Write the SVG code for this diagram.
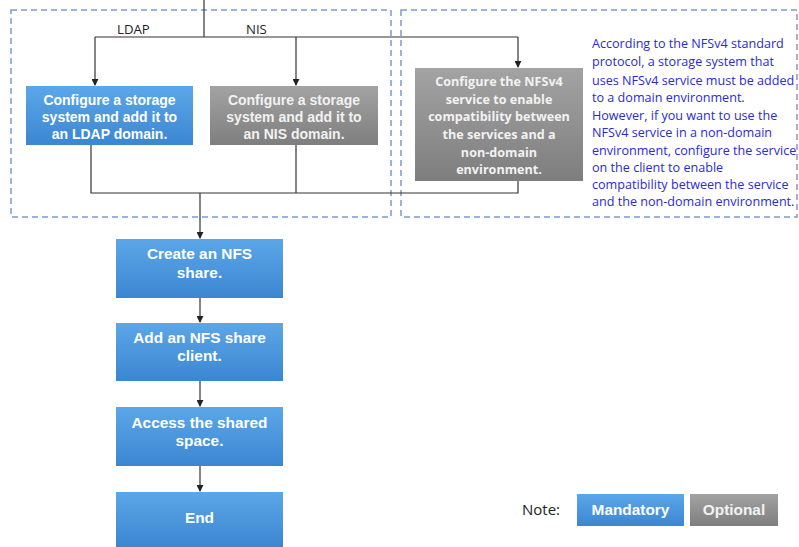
<svg xmlns="http://www.w3.org/2000/svg" width="799" height="547" viewBox="0 0 799 547">
<defs>
<linearGradient id="gb" x1="0" y1="0" x2="0" y2="1"><stop offset="0" stop-color="#5ca7e8"/><stop offset="1" stop-color="#3b86d1"/></linearGradient>
<linearGradient id="gg" x1="0" y1="0" x2="0" y2="1"><stop offset="0" stop-color="#a3a3a3"/><stop offset="1" stop-color="#7e7e7e"/></linearGradient>
<marker id="ar" viewBox="0 0 8 8" refX="7" refY="4" markerWidth="7" markerHeight="7" orient="auto" markerUnits="userSpaceOnUse"><path d="M0,0 L8,4 L0,8 z" fill="#222"/></marker>
<style>
.dash{fill:none;stroke:#7c9bd3;stroke-width:1.5;stroke-dasharray:6 4}
.ln{fill:none;stroke:#333;stroke-width:1.2}
.blue{fill:url(#gb)}
.gray{fill:url(#gg)}
.bt{font-family:"Liberation Sans",Arial,sans-serif;font-weight:700;font-size:14px;fill:#fff;text-anchor:middle}
.gt{font-family:"Liberation Sans",Arial,sans-serif;font-weight:700;font-size:14px;fill:#f2f2f2;text-anchor:middle}
.nt{font-family:"Open Sans","Liberation Sans",sans-serif;font-weight:700;font-size:12.6px;fill:#f2f2f2;text-anchor:middle}
.ft{font-family:"Liberation Sans",Arial,sans-serif;font-weight:700;font-size:15.4px;fill:#fff;text-anchor:middle}
.lb{font-family:"Open Sans","Liberation Sans",sans-serif;font-size:13.2px;fill:#222}
.note{font-family:"Open Sans","Liberation Sans",sans-serif;font-size:12.6px;fill:#2a2ad8}
</style>
</defs>
<rect width="799" height="547" fill="#fff"/>
<rect class="dash" x="11" y="10" width="380" height="207"/>
<rect class="dash" x="401" y="10" width="396" height="207"/>
<g id="connectors">
<path class="ln" d="M204,0 V37"/>
<path class="ln" d="M95,37 H518"/>
<path class="ln" d="M95,37 V85" marker-end="url(#ar)"/>
<path class="ln" d="M296,37 V85" marker-end="url(#ar)"/>
<path class="ln" d="M518,37 V67" marker-end="url(#ar)"/>
<path class="ln" d="M91,145 V193 H518 V181"/>
<path class="ln" d="M296,145 V193"/>
<path class="ln" d="M200,193 V238" marker-end="url(#ar)"/>
<path class="ln" d="M200,298 V322" marker-end="url(#ar)"/>
<path class="ln" d="M200,381 V406" marker-end="url(#ar)"/>
<path class="ln" d="M200,466 V491" marker-end="url(#ar)"/>
</g>
<text class="lb" x="117" y="34">LDAP</text>
<text class="lb" x="246" y="34">NIS</text>
<g id="ldap">
<rect class="blue" x="26" y="86" width="167" height="59"/>
<text class="bt" x="109.5" y="105">Configure a storage</text>
<text class="bt" x="109.5" y="122">system and add it to</text>
<text class="bt" x="109.5" y="139">an LDAP domain.</text>
</g>
<g id="nis">
<rect class="gray" x="210" y="86" width="168" height="59"/>
<text class="gt" x="294" y="105">Configure a storage</text>
<text class="gt" x="294" y="122">system and add it to</text>
<text class="gt" x="294" y="139">an NIS domain.</text>
</g>
<g id="nfsv4">
<rect class="gray" x="415" y="68" width="168" height="113"/>
<text class="nt" x="499" y="86">Configure the NFSv4</text>
<text class="nt" x="499" y="104">service to enable</text>
<text class="nt" x="499" y="121">compatibility between</text>
<text class="nt" x="499" y="139">the services and a</text>
<text class="nt" x="499" y="157">non-domain</text>
<text class="nt" x="499" y="174">environment.</text>
</g>
<g id="note-text">
<text class="note" x="592" y="48">According to the NFSv4 standard</text>
<text class="note" x="592" y="66">protocol, a storage system that</text>
<text class="note" x="592" y="85">uses NFSv4 service must be added</text>
<text class="note" x="592" y="102">to a domain environment.</text>
<text class="note" x="592" y="120">However, if you want to use the</text>
<text class="note" x="592" y="137">NFSv4 service in a non-domain</text>
<text class="note" x="592" y="155">environment, configure the service</text>
<text class="note" x="592" y="172">on the client to enable</text>
<text class="note" x="592" y="189">compatibility between the service</text>
<text class="note" x="592" y="206">and the non-domain environment.</text>
</g>
<g id="create">
<rect class="blue" x="116" y="239" width="167" height="59"/>
<text class="ft" x="199.5" y="259">Create an NFS</text>
<text class="ft" x="199.5" y="278">share.</text>
</g>
<g id="client">
<rect class="blue" x="116" y="323" width="167" height="58"/>
<text class="ft" x="199.5" y="343">Add an NFS share</text>
<text class="ft" x="199.5" y="361">client.</text>
</g>
<g id="access">
<rect class="blue" x="116" y="407" width="167" height="59"/>
<text class="ft" x="199.5" y="428">Access the shared</text>
<text class="ft" x="199.5" y="446">space.</text>
</g>
<g id="end">
<rect class="blue" x="116" y="492" width="167" height="55"/>
<text class="ft" x="199.5" y="523">End</text>
</g>
<g id="legend">
<text x="522" y="515" style="font-family:'Open Sans','Liberation Sans',sans-serif;font-size:15px;fill:#222">Note:</text>
<rect class="blue" x="577" y="494" width="107" height="32"/>
<text class="ft" x="630.5" y="515">Mandatory</text>
<rect class="gray" x="690" y="494" width="88" height="32"/>
<text class="gt" x="734" y="515" style="font-size:15.4px">Optional</text>
</g>
</svg>
